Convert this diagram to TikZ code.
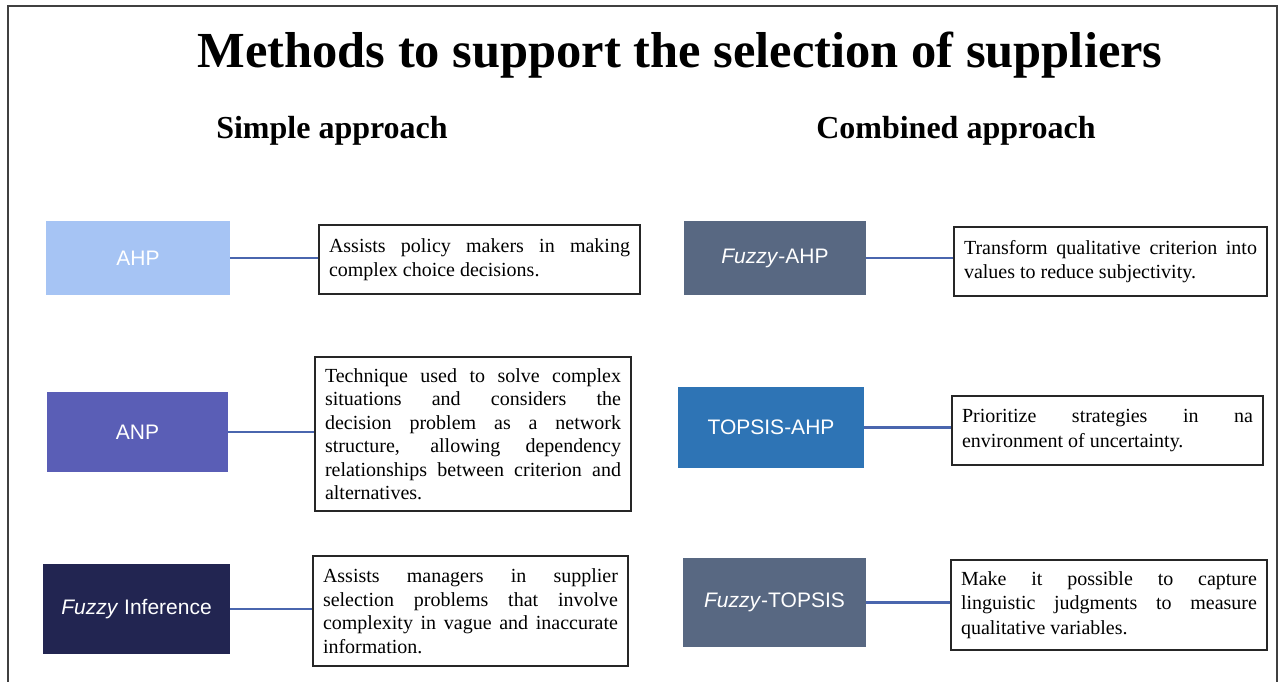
\documentclass[tikz,border=0pt]{standalone}
\usepackage{fontspec}
\setmainfont{Liberation Serif}
\newfontfamily\labelfont{Liberation Sans}
\definecolor{ahpcol}{HTML}{A6C4F4}
\definecolor{anpcol}{HTML}{5A5EB6}
\definecolor{infcol}{HTML}{222551}
\definecolor{slatecol}{HTML}{586882}
\definecolor{topcol}{HTML}{2E74B5}
\definecolor{linkcol}{HTML}{4A66AE}
\tikzset{x=1pt, y=-1pt,
  method/.style={rectangle, inner sep=0pt, text=white, font=\labelfont\fontsize{21}{24}\selectfont},
  info/.style={rectangle, draw=black!85, line width=1.3pt, fill=white, inner xsep=10pt, inner ysep=0pt,
    align=justify, font=\fontsize{20}{24.5}\selectfont},
  link/.style={draw=linkcol, line width=2.8pt},
  heading/.style={font=\bfseries\fontsize{32}{36}\selectfont}}

\begin{document}
\begin{tikzpicture}
  \useasboundingbox (0,0) rectangle (1280,682);
  \draw[black!75, line width=1.4pt] (8,682) -- (8,6) -- (1277,6) -- (1277,682);

  \node[font=\bfseries\fontsize{50.5}{56}\selectfont] (title) at (680,55) {Methods to support the selection of suppliers};
  \node[heading] (simple) at (332,131) {Simple approach};
  \node[heading] (combined) at (956,131) {Combined approach};

  \node[method, fill=ahpcol, minimum width=184, minimum height=74] (ahp) at (138,258) {AHP};
  \node[method, fill=anpcol, minimum width=181, minimum height=80] (anp) at (137.5,432) {ANP};
  \node[method, fill=infcol, minimum width=187, minimum height=90] (fzinf) at (136.5,609) {\textit{Fuzzy} Inference};
  \node[method, fill=slatecol, minimum width=182, minimum height=74] (fzahp) at (775,258) {\textit{Fuzzy}-AHP};
  \node[method, fill=topcol, minimum width=186, minimum height=81] (topahp) at (771,427.5) {TOPSIS-AHP};
  \node[method, fill=slatecol, minimum width=183, minimum height=89] (fztop) at (774.5,602.5) {\textit{Fuzzy}-TOPSIS};

  \node[info, text width=301, minimum height=69] (ahp-d) at (479.5,259.5)
    {Assists policy makers in making\linebreak complex choice decisions.};
  \node[info, text width=296, minimum height=154] (anp-d) at (473,434)
    {\baselineskip=23.5pt Technique used to solve complex\linebreak situations and considers the\linebreak decision problem as a network\linebreak structure, allowing dependency\linebreak relationships between criterion and\linebreak alternatives.\par};
  \node[info, text width=295, minimum height=110] (fzinf-d) at (470.5,611)
    {\baselineskip=23.5pt Assists managers in supplier\linebreak selection problems that involve\linebreak complexity in vague and inaccurate\linebreak information.\par};
  \node[info, text width=293, minimum height=69] (fzahp-d) at (1110.5,261.5)
    {Transform qualitative criterion into\linebreak values to reduce subjectivity.};
  \node[info, text width=291, minimum height=69] (topahp-d) at (1107.5,430.5)
    {Prioritize strategies in na\linebreak environment of uncertainty.};
  \node[info, text width=296, minimum height=90] (fztop-d) at (1109,605)
    {Make it possible to capture\linebreak linguistic judgments to measure\linebreak qualitative variables.};

  \foreach \m in {ahp,anp,fzinf,fzahp,topahp,fztop}
    \draw[link] (\m.east) -- (\m.east -| \m-d.west);
\end{tikzpicture}
\end{document}
